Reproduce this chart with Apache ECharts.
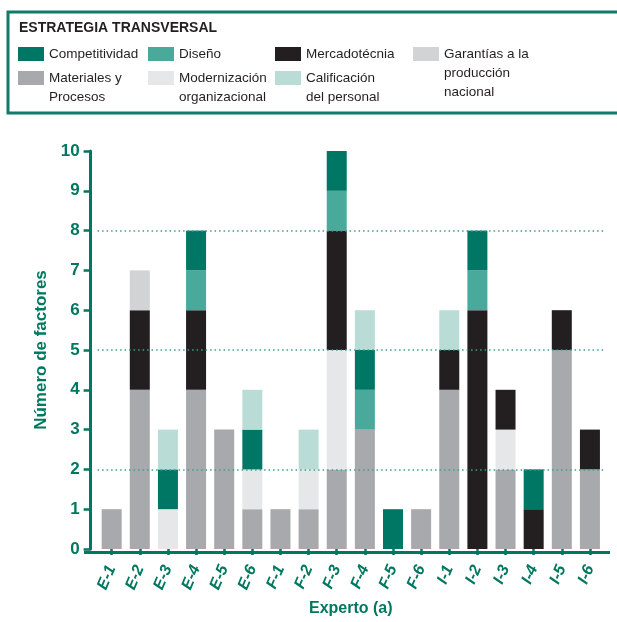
<!DOCTYPE html>
<html>
<head>
<meta charset="utf-8">
<script src="https://cdn.jsdelivr.net/npm/echarts@6/dist/echarts.min.js"></script>
<style>
  html, body { margin: 0; padding: 0; background: #fff; }
  #main { width: 617px; height: 622px; }
</style>
</head>
<body>
<div id="main"></div>
<script>
var expertos = ['E-1','E-2','E-3','E-4','E-5','E-6','F-1','F-2','F-3','F-4','F-5','F-6','I-1','I-2','I-3','I-4','I-5','I-6'];
// stacked bottom -> top
var materiales     = [1,4,0,4,3,1,1,1,2,3,0,1,4,0,2,0,5,2];
var modernizacion  = [0,0,1,0,0,1,0,1,3,0,0,0,0,0,1,0,0,0];
var mercadotecnia  = [0,2,0,2,0,0,0,0,3,0,0,0,1,6,1,1,1,1];
var garantias      = [0,1,0,0,0,0,0,0,0,0,0,0,0,0,0,0,0,0];
var diseno         = [0,0,0,1,0,0,0,0,1,1,0,0,0,1,0,0,0,0];
var competitividad = [0,0,1,1,0,1,0,0,1,1,1,0,0,1,0,1,0,0];
var calificacion   = [0,0,1,0,0,1,0,1,0,1,0,0,1,0,0,0,0,0];
var lineasGuia = [2, 5, 8];

var teal = '#00775f';
var font = 'Liberation Sans';

var nombres = {
  mat: 'Materiales y\nProcesos',
  mod: 'Modernización\norganizacional',
  mer: 'Mercadotécnia',
  gar: 'Garantías a la\nproducción\nnacional',
  dis: 'Diseño',
  com: 'Competitividad',
  cal: 'Calificación\ndel personal'
};

var gridL = 97.6, gridR = 13, gridT = 151, gridB = 69.5;

function serie(nombre, datos, color) {
  return {
    name: nombre, type: 'bar', stack: 'total', data: datos,
    barWidth: 20, itemStyle: { color: color }, emphasis: { disabled: true }
  };
}

// one legend per item; blank lines on top keep the first text line beside the swatch
function leyenda(nombre, left, centroY, lineas) {
  var lh = 19;
  var total = lineas * 2 - 1;
  return {
    data: [nombre], left: left, top: centroY - total * lh / 2, padding: 0,
    itemWidth: 26, itemHeight: 14, icon: 'rect', selectedMode: false,
    formatter: function (n) { return new Array(lineas).join('\n') + n; },
    textStyle: { fontFamily: font, fontSize: 13.5, color: '#231f20', lineHeight: lh }
  };
}

var series = [
  serie(nombres.mat, materiales, '#a7a9ac'),
  serie(nombres.mod, modernizacion, '#e6e7e8'),
  serie(nombres.mer, mercadotecnia, '#231f20'),
  serie(nombres.gar, garantias, '#d1d3d4'),
  serie(nombres.dis, diseno, '#49a99b'),
  serie(nombres.com, competitividad, '#007764'),
  serie(nombres.cal, calificacion, '#b9ddd6')
];
series[0].markLine = {
  silent: true, symbol: ['none', 'none'], label: { show: false },
  lineStyle: { color: '#3f9c8c', type: [1.5, 3], width: 1.5 },
  data: lineasGuia.map(function (v) { return { yAxis: v }; })
};

var chart = echarts.init(document.getElementById('main'));
chart.setOption({
  animation: false,
  title: {
    text: 'ESTRATEGIA TRANSVERSAL', left: 19, top: 21, padding: 0,
    textStyle: { fontFamily: font, fontSize: 14, fontWeight: 'bold', color: '#231f20' }
  },
  legend: [
    leyenda(nombres.com, 18, 54, 1),
    leyenda(nombres.dis, 148, 54, 1),
    leyenda(nombres.mer, 275, 54, 1),
    leyenda(nombres.gar, 413, 54, 3),
    leyenda(nombres.mat, 18, 78, 2),
    leyenda(nombres.mod, 148, 78, 2),
    leyenda(nombres.cal, 275, 78, 2)
  ],
  graphic: [
    { type: 'rect', shape: { x: 8, y: 12, width: 620, height: 101 },
      style: { fill: 'none', stroke: '#127a68', lineWidth: 3 }, silent: true },
    { type: 'line', shape: { x1: 84, y1: 622 - gridB, x2: 610, y2: 622 - gridB },
      style: { stroke: teal, lineWidth: 3 }, silent: true }
  ],
  grid: { left: gridL, right: gridR, top: gridT, bottom: gridB },
  xAxis: {
    type: 'category', data: expertos,
    name: 'Experto (a)', nameLocation: 'middle', nameGap: 52,
    nameTextStyle: { fontFamily: font, fontSize: 16, fontWeight: 'bold', color: teal },
    axisLine: { show: false },
    axisTick: { show: true, alignWithLabel: true, length: 6, lineStyle: { color: teal, width: 2.5 } },
    axisLabel: { rotate: 67, margin: 17, fontFamily: font, fontSize: 16, fontWeight: 'bold', fontStyle: 'italic', color: teal }
  },
  yAxis: {
    type: 'value', min: 0, max: 10, interval: 1, offset: 7,
    name: 'Número de factores', nameLocation: 'middle', nameGap: 30, nameRotate: 90,
    nameTextStyle: { fontFamily: font, fontSize: 17, fontWeight: 'bold', color: teal },
    axisLine: { show: true, lineStyle: { color: teal, width: 3 } },
    axisTick: { show: true, length: 7, lineStyle: { color: teal, width: 2.5 } },
    axisLabel: { margin: 11, fontFamily: font, fontSize: 17, fontWeight: 'bold', color: teal },
    splitLine: { show: false }
  },
  series: series
});
</script>
</body>
</html>
